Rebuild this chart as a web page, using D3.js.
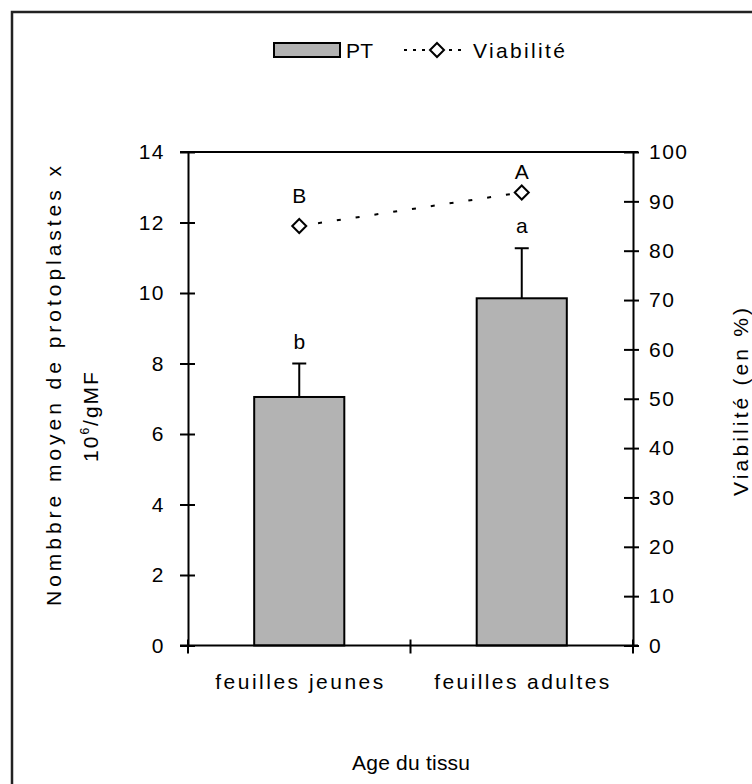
<!DOCTYPE html>
<html><head><meta charset="utf-8">
<script src="https://cdn.jsdelivr.net/npm/d3@7"></script>
<style>
body{margin:0;background:#fff}
text{font-family:"Liberation Sans",Arial,sans-serif;fill:#000}
</style>
</head><body>
<svg id="c" width="752" height="784"></svg>
<script>
const categories = ["feuilles jeunes", "feuilles adultes"];
const ptValues = [7.05, 9.85];
const ptErrors = [0.95, 1.42];
const ptLetters = ["b", "a"];
const viability = [85, 91.8];
const viaLetters = ["B", "A"];
const leftTicks = [0, 2, 4, 6, 8, 10, 12, 14];
const rightTicks = [0, 10, 20, 30, 40, 50, 60, 70, 80, 90, 100];
const legendLabels = ["PT", "Viabilité"];
const xTitle = "Age du tissu";
const yTitle1 = "Nombbre moyen de protoplastes x";
const y2Title = "Viabilité (en %)";

const svg = d3.select("#c");
const L = 188, R = 633, T = 152, B = 645.5;
const FS = 21;

const y = d3.scaleLinear().domain([0, 14]).range([B, T]);
const y2 = d3.scaleLinear().domain([0, 100]).range([B, T]);
const x = d3.scaleBand().domain(categories).range([L, R]).paddingInner(0.595).paddingOuter(0.2975);

// outer border
svg.append("rect").attr("x", 12).attr("y", 12).attr("width", 800).attr("height", 800)
  .attr("fill", "none").attr("stroke", "#222").attr("stroke-width", 2.5);

// bars
svg.selectAll("rect.bar").data(ptValues).join("rect").attr("class", "bar")
  .attr("x", (d, i) => x(categories[i])).attr("width", x.bandwidth())
  .attr("y", d => y(d)).attr("height", d => B - y(d))
  .attr("fill", "#b3b3b3").attr("stroke", "#000").attr("stroke-width", 2);

// error bars
const cx = i => x(categories[i]) + x.bandwidth() / 2;
ptValues.forEach((v, i) => {
  svg.append("line").attr("x1", cx(i)).attr("x2", cx(i)).attr("y1", y(v)).attr("y2", y(v + ptErrors[i]))
    .attr("stroke", "#000").attr("stroke-width", 2);
  svg.append("line").attr("x1", cx(i) - 7).attr("x2", cx(i) + 7).attr("y1", y(v + ptErrors[i])).attr("y2", y(v + ptErrors[i]))
    .attr("stroke", "#000").attr("stroke-width", 2);
  svg.append("text").attr("x", cx(i)).attr("y", y(v + ptErrors[i]) - 15).attr("text-anchor", "middle")
    .attr("font-size", FS).text(ptLetters[i]);
});

// axes
const gl = svg.append("g").attr("transform", `translate(${L},0)`)
  .call(d3.axisLeft(y).tickValues(leftTicks).tickSizeInner(8).tickSizeOuter(0).tickPadding(15));
gl.selectAll(".tick line").attr("x2", -8).attr("x1", 7);
const gr = svg.append("g").attr("transform", `translate(${R},0)`)
  .call(d3.axisRight(y2).tickValues(rightTicks).tickSizeInner(6).tickSizeOuter(0).tickPadding(10));
gr.selectAll(".tick line").attr("x1", -9).attr("x2", 6);
[gl, gr].forEach(g => {
  g.selectAll("path.domain").attr("stroke", "#000").attr("stroke-width", 2);
  g.selectAll(".tick line").attr("stroke", "#000").attr("stroke-width", 2);
  g.selectAll(".tick text").attr("font-size", FS).attr("letter-spacing", 1.5)
    .attr("font-family", "Liberation Sans, Arial, sans-serif").attr("fill", "#000");
});

// top and bottom lines
svg.append("line").attr("x1", L - 8).attr("x2", R + 5).attr("y1", T).attr("y2", T).attr("stroke", "#000").attr("stroke-width", 2);
svg.append("line").attr("x1", L - 8).attr("x2", R + 5).attr("y1", B).attr("y2", B).attr("stroke", "#000").attr("stroke-width", 2);
const gap = (x.step() - x.bandwidth()) / 2;
const bounds = categories.map(c => x(c) - gap).concat([R]);
bounds.forEach(b => svg.append("line").attr("x1", b).attr("x2", b).attr("y1", B - 6).attr("y2", B + 8)
  .attr("stroke", "#000").attr("stroke-width", 2));
categories.forEach((c, i) => {
  svg.append("text").attr("x", cx(i)).attr("y", 689).attr("text-anchor", "middle").attr("font-size", FS)
    .attr("textLength", i === 0 ? 168 : 175).attr("lengthAdjust", "spacing").text(c);
});

// viability line
const line = d3.line().x((d, i) => cx(i)).y(d => y2(d));
svg.append("path").datum(viability).attr("d", line).attr("fill", "none").attr("stroke", "#000")
  .attr("stroke-width", 2).attr("stroke-dasharray", "4,15");
const diamond = (px, py) => `M${px},${py - 7}L${px + 7},${py}L${px},${py + 7}L${px - 7},${py}Z`;
viability.forEach((v, i) => {
  svg.append("path").attr("d", diamond(cx(i), y2(v))).attr("fill", "#fff").attr("stroke", "#000").attr("stroke-width", 2);
  svg.append("text").attr("x", cx(i)).attr("y", y2(v) - (i === 0 ? 23 : 13)).attr("text-anchor", "middle")
    .attr("font-size", FS).text(viaLetters[i]);
});

// legend
svg.append("rect").attr("x", 274).attr("y", 43).attr("width", 66).attr("height", 14)
  .attr("fill", "#b3b3b3").attr("stroke", "#000").attr("stroke-width", 2);
svg.append("text").attr("x", 346).attr("y", 58).attr("font-size", FS).attr("textLength", 27).attr("lengthAdjust", "spacing").text(legendLabels[0]);
svg.append("line").attr("x1", 404).attr("x2", 462).attr("y1", 50).attr("y2", 50).attr("stroke", "#000")
  .attr("stroke-width", 2).attr("stroke-dasharray", "3,6");
svg.append("path").attr("d", diamond(437, 50)).attr("fill", "#fff").attr("stroke", "#000").attr("stroke-width", 2);
svg.append("text").attr("x", 473).attr("y", 58).attr("font-size", FS).attr("textLength", 92).attr("lengthAdjust", "spacing").text(legendLabels[1]);

// titles
svg.append("text").attr("x", 411).attr("y", 770).attr("text-anchor", "middle").attr("font-size", FS)
  .attr("textLength", 118).attr("lengthAdjust", "spacing").text(xTitle);
svg.append("text").attr("transform", "translate(61,386) rotate(-90)").attr("text-anchor", "middle")
  .attr("font-size", FS).attr("textLength", 440).attr("lengthAdjust", "spacing").text(yTitle1);
const t2 = svg.append("text").attr("transform", "translate(98,416) rotate(-90)").attr("text-anchor", "middle")
  .attr("font-size", FS).attr("letter-spacing", 2);
t2.append("tspan").text("10");
t2.append("tspan").attr("font-size", 12).attr("dy", -9).text("6");
t2.append("tspan").attr("dy", 9).text("/gMF");
svg.append("text").attr("transform", "translate(748,402) rotate(-90)").attr("text-anchor", "middle")
  .attr("font-size", FS).attr("textLength", 188).attr("lengthAdjust", "spacing").text(y2Title);
</script>
</body></html>
